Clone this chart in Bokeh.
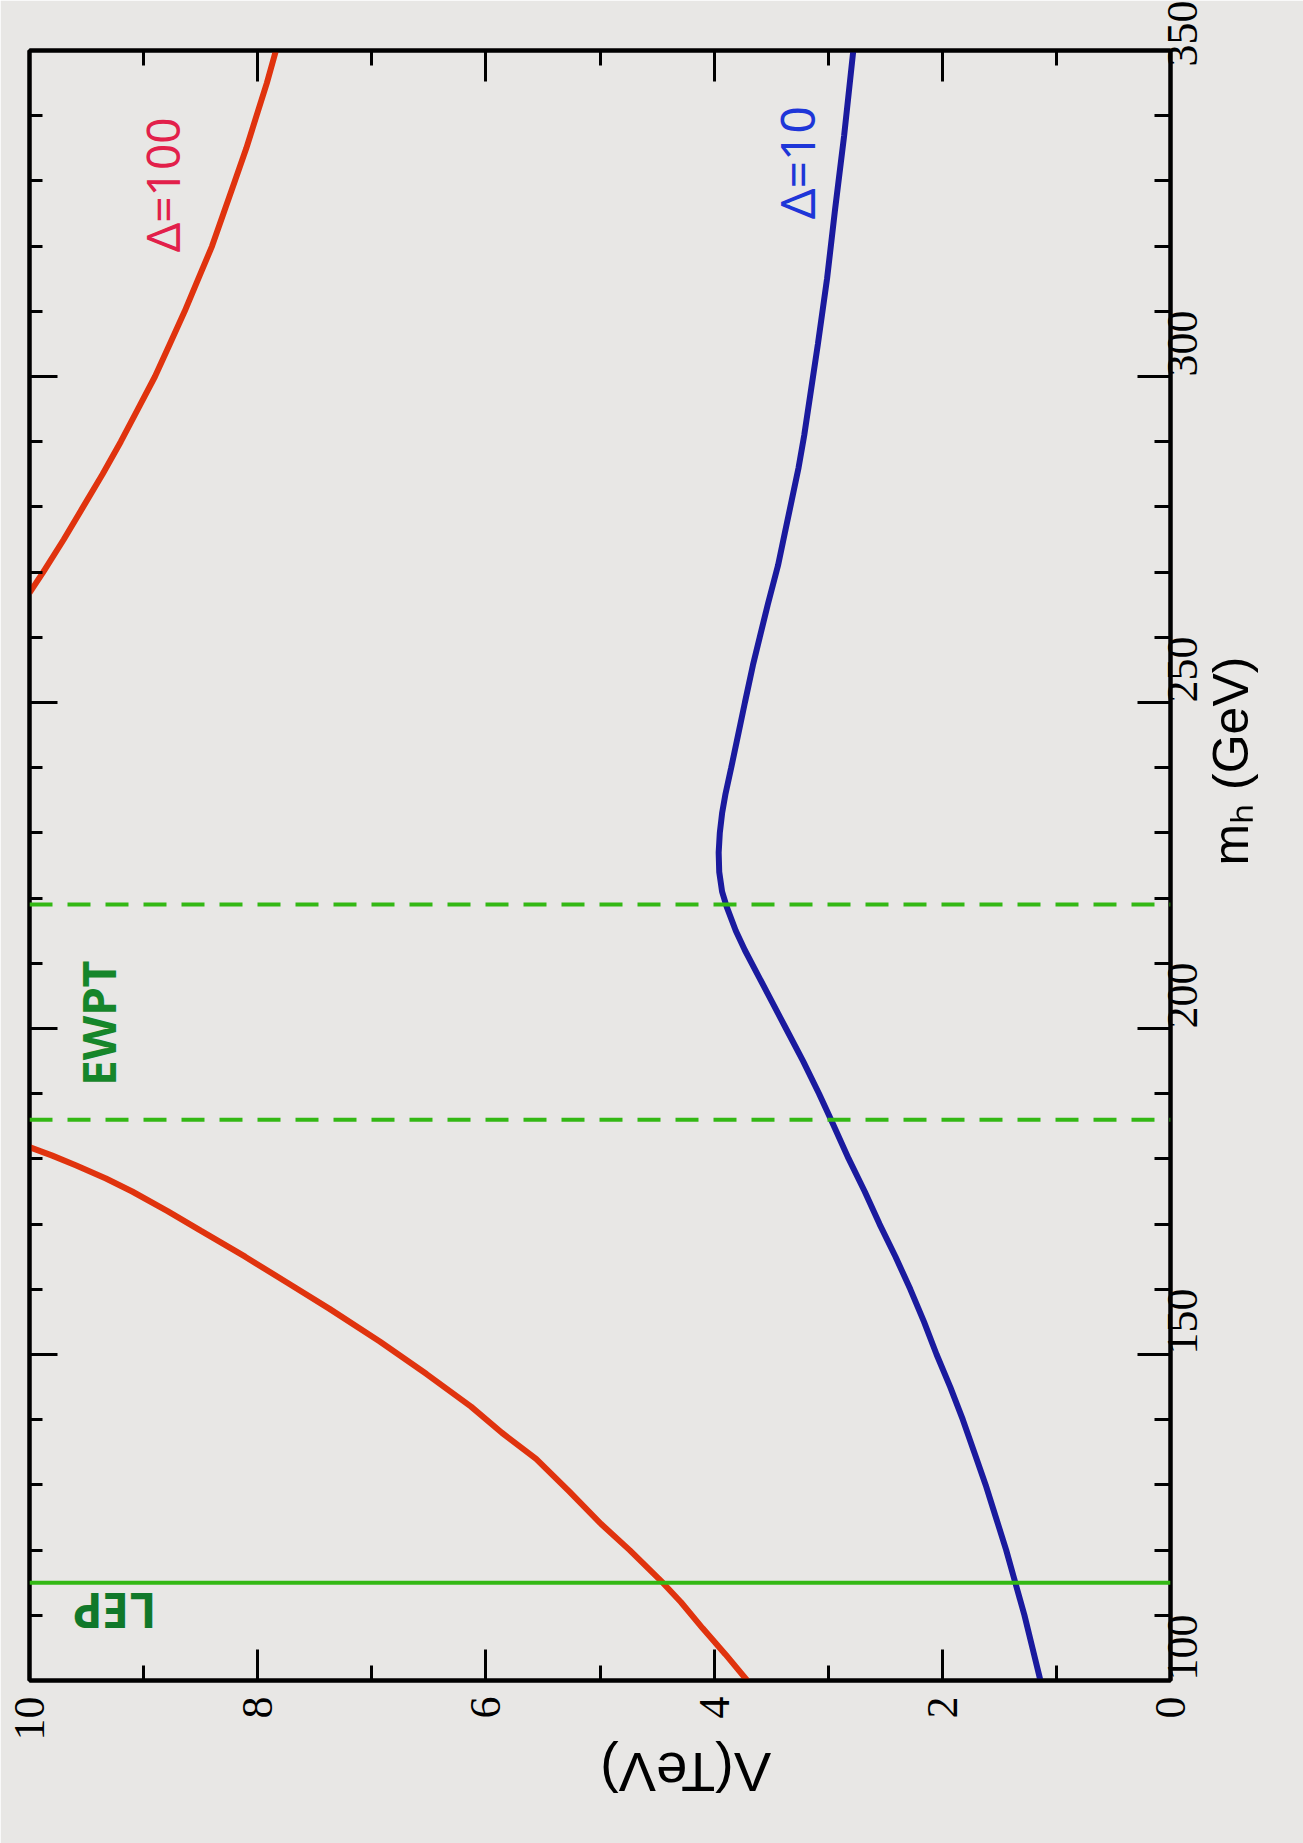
import math
from bokeh.plotting import figure
from bokeh.models import Range1d, LinearAxis, SingleIntervalTicker, Label, Span
from bokeh.embed import file_html
from bokeh.resources import INLINE

# ---- data ----
# Delta = 10 curve: Higgs mass m_h (GeV) vs cutoff Lambda (TeV)
blue_mh = [100, 105, 110, 115, 120, 125, 130, 135, 140, 145, 150, 155, 160, 165, 170,
           175, 180, 185.8, 190, 195, 200, 204, 208, 212, 215, 218.7, 221, 224, 227,
           230, 233, 236, 240, 245, 250, 255.7, 260, 265, 271, 276, 281, 286, 291,
           298, 305, 315, 325.6, 337, 350]
blue_lam = [1.14, 1.21, 1.28, 1.36, 1.44, 1.53, 1.62, 1.72, 1.82, 1.93, 2.05, 2.16,
            2.28, 2.41, 2.55, 2.68, 2.82, 2.97, 3.08, 3.22, 3.37, 3.49, 3.61, 3.73,
            3.81, 3.89, 3.93, 3.955, 3.96, 3.95, 3.93, 3.90, 3.85, 3.79, 3.73, 3.66,
            3.60, 3.53, 3.44, 3.38, 3.32, 3.26, 3.21, 3.15, 3.09, 3.01, 2.94, 2.86, 2.78]
# Delta = 100 curve, two branches
red1_mh = [100, 104, 108, 112, 115, 120, 124, 129, 134, 138, 142, 147, 152, 157, 161,
           165, 169, 172, 175, 177, 179, 180.5, 181.8]
red1_lam = [3.71, 3.90, 4.10, 4.29, 4.45, 4.74, 4.99, 5.27, 5.56, 5.86, 6.13, 6.52,
            6.93, 7.37, 7.74, 8.11, 8.50, 8.79, 9.10, 9.33, 9.59, 9.80, 10.0]
red2_mh = [266.8, 270, 275, 280, 285, 290, 295, 300, 305, 310, 315, 320, 325, 330,
           335, 340, 345, 350]
red2_lam = [10.0, 9.88, 9.70, 9.53, 9.36, 9.20, 9.05, 8.90, 8.77, 8.64, 8.52, 8.40,
            8.30, 8.20, 8.10, 8.01, 7.92, 7.84]
# reference lines (m_h in GeV)
lep_mh = [115]
ewpt_mh = [186, 219]

BG = "#e8e7e5"
RED = "#e0330e"
BLUE = "#1a1a9e"
GREEN = "#33b814"

p = figure(width=1303, height=1843,
           x_range=Range1d(10, 0), y_range=Range1d(100, 350),
           output_backend="svg", toolbar_location=None,
           x_axis_location=None, y_axis_location=None,
           min_border_left=29, min_border_right=133,
           min_border_top=50, min_border_bottom=163,
           background_fill_color=BG, border_fill_color=BG,
           outline_line_color="black", outline_line_width=4)
p.grid.visible = False

bottom_ax = LinearAxis(axis_label="Λ(TeV)")
right_ax = LinearAxis(axis_label="mₕ (GeV)")
top_ax = LinearAxis()
left_ax = LinearAxis()
p.add_layout(bottom_ax, "below")
p.add_layout(right_ax, "right")
p.add_layout(top_ax, "above")
p.add_layout(left_ax, "left")


def style(ax, interval, nminor, maj, mnr, labels, standoff):
    ax.ticker = SingleIntervalTicker(interval=interval, num_minor_ticks=nminor)
    ax.axis_line_color = "black"
    ax.axis_line_width = 4
    ax.major_tick_in = maj
    ax.major_tick_out = 0
    ax.minor_tick_in = mnr
    ax.minor_tick_out = 0
    ax.major_tick_line_width = 3
    ax.minor_tick_line_width = 3
    ax.major_tick_line_color = "black"
    ax.minor_tick_line_color = "black"
    ax.major_label_orientation = math.pi / 2
    if labels:
        ax.major_label_text_font = "'Liberation Serif'"
        ax.major_label_text_font_size = "44px"
        ax.major_label_text_color = "black"
        ax.major_label_standoff = standoff
    else:
        ax.major_label_text_font_size = "1px"
        ax.major_label_text_alpha = 0
        ax.major_label_standoff = 0


style(bottom_ax, 2, 2, 31, 15, True, 16)
style(top_ax, 2, 2, 31, 15, False, 0)
style(right_ax, 50, 5, 33, 16, True, 12)
style(left_ax, 50, 5, 28, 13, False, 0)

for ax in (bottom_ax, right_ax):
    ax.axis_label_text_font = "'Liberation Sans'"
    ax.axis_label_text_font_style = "normal"
    ax.axis_label_text_color = "black"
bottom_ax.axis_label_text_font_size = "56px"
bottom_ax.axis_label_standoff = 29
right_ax.axis_label_text_font_size = "50px"
right_ax.axis_label_standoff = 16
try:
    bottom_ax.axis_label_orientation = math.pi
    right_ax.axis_label_orientation = math.pi / 2
except Exception:
    pass

# reference lines
for m in lep_mh:
    p.add_layout(Span(location=m, dimension="width", line_color=GREEN, line_width=4))
for m in ewpt_mh:
    p.add_layout(Span(location=m, dimension="width", line_color=GREEN, line_width=4,
                      line_dash="23 15"))

# curves
p.line(red1_lam, red1_mh, line_color=RED, line_width=6)
p.line(red2_lam, red2_mh, line_color=RED, line_width=6)
p.line(blue_lam, blue_mh, line_color=BLUE, line_width=6)

# hand-written annotations
p.add_layout(Label(x=8.84, y=329.4, text="Δ=100", angle=math.pi / 2,
                   text_align="center", text_baseline="middle",
                   text_font="Noto Sans", text_font_size="46px", text_color="#e2204a"))
p.add_layout(Label(x=3.28, y=332.8, text="Δ=10", angle=math.pi / 2,
                   text_align="center", text_baseline="middle",
                   text_font="Noto Sans", text_font_size="48px", text_color="#1e36d8"))
p.add_layout(Label(x=9.40, y=200.8, text="EWPT", angle=math.pi / 2,
                   text_align="center", text_baseline="middle",
                   text_font="Noto Sans", text_font_size="46px", text_font_style="bold",
                   text_color="#16862a"))
p.add_layout(Label(x=8.89, y=110.6, text="LEP", angle=math.pi,
                   text_align="left", text_baseline="alphabetic",
                   text_font="Noto Sans", text_font_size="48px", text_font_style="bold",
                   text_color="#10782a"))

open("out.html", "w").write(file_html(p, INLINE))
